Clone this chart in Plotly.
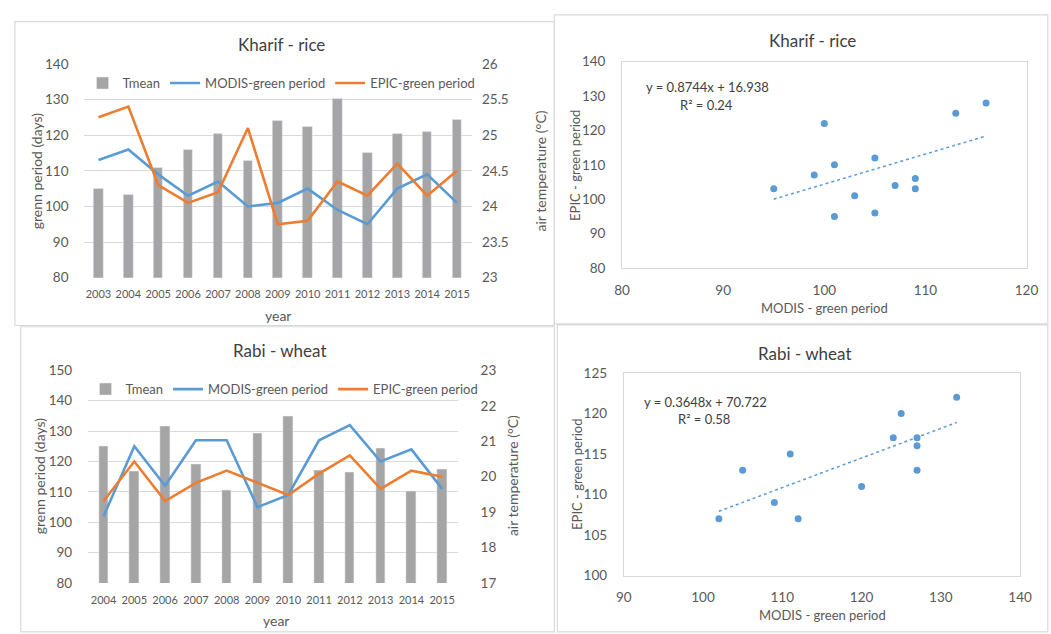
import plotly.graph_objects as go

W, H = 1051, 634
FONT = "Lato"
TXT = "#404040"
TICK = "#595959"
GRID = "#D9D9D9"
GRAY = "#A5A5A5"
BLUE = "#5B9BD5"
ORANGE = "#ED7D31"

# ---------------- data ----------------
kharif_years = ["2003", "2004", "2005", "2006", "2007", "2008", "2009",
                "2010", "2011", "2012", "2013", "2014", "2015"]
kharif_tmean = [24.24, 24.16, 24.54, 24.80, 25.02, 24.64, 25.20,
                25.11, 25.51, 24.75, 25.02, 25.05, 25.21]
kharif_modis = [113, 116, 109, 103, 107, 100, 101, 105, 99, 95, 105, 109, 101]
kharif_epic = [125, 128, 106, 101, 104, 122, 95, 96, 107, 103, 112, 103, 110]
kharif_slope, kharif_intercept, kharif_r2 = 0.8744, 16.938, 0.24

rabi_years = ["2004", "2005", "2006", "2007", "2008", "2009",
              "2010", "2011", "2012", "2013", "2014", "2015"]
rabi_tmean = [20.85, 20.15, 21.42, 20.35, 19.63, 21.21,
              21.69, 20.19, 20.11, 20.80, 19.58, 20.22]
rabi_modis = [102, 125, 112, 127, 127, 105, 109, 127, 132, 120, 124, 111]
rabi_epic = [107, 120, 107, 113, 117, 113, 109, 116, 122, 111, 117, 115]
rabi_slope, rabi_intercept, rabi_r2 = 0.3648, 70.722, 0.58


def px(x):
    return x / W


def py(y):
    return 1 - y / H


fig = go.Figure()

# ---------------- panel 1: Kharif line/bar ----------------
fig.add_trace(go.Bar(x=kharif_years, y=kharif_tmean, name="Tmean",
                     marker_color=GRAY, width=0.32, xaxis="x", yaxis="y",
                     legend="legend"))
fig.add_trace(go.Scatter(x=kharif_years, y=kharif_modis, name="MODIS-green period",
                         mode="lines", line=dict(color=BLUE, width=2.6),
                         xaxis="x", yaxis="y2", legend="legend"))
fig.add_trace(go.Scatter(x=kharif_years, y=kharif_epic, name="EPIC-green period",
                         mode="lines", line=dict(color=ORANGE, width=2.6),
                         xaxis="x", yaxis="y2", legend="legend"))

# ---------------- panel 2: Kharif scatter ----------------
fig.add_trace(go.Scatter(x=kharif_modis, y=kharif_epic, mode="markers",
                         marker=dict(color=BLUE, size=7), showlegend=False,
                         xaxis="x2", yaxis="y3"))
kx = [min(kharif_modis), max(kharif_modis)]
fig.add_trace(go.Scatter(x=kx, y=[kharif_slope * v + kharif_intercept for v in kx],
                         mode="lines", line=dict(color=BLUE, width=1.5, dash="dot"),
                         showlegend=False, xaxis="x2", yaxis="y3"))

# ---------------- panel 3: Rabi line/bar ----------------
fig.add_trace(go.Bar(x=rabi_years, y=rabi_tmean, name="Tmean",
                     marker_color=GRAY, width=0.31, xaxis="x3", yaxis="y4",
                     legend="legend2"))
fig.add_trace(go.Scatter(x=rabi_years, y=rabi_modis, name="MODIS-green period",
                         mode="lines", line=dict(color=BLUE, width=2.6),
                         xaxis="x3", yaxis="y5", legend="legend2"))
fig.add_trace(go.Scatter(x=rabi_years, y=rabi_epic, name="EPIC-green period",
                         mode="lines", line=dict(color=ORANGE, width=2.6),
                         xaxis="x3", yaxis="y5", legend="legend2"))

# ---------------- panel 4: Rabi scatter ----------------
fig.add_trace(go.Scatter(x=rabi_modis, y=rabi_epic, mode="markers",
                         marker=dict(color=BLUE, size=7), showlegend=False,
                         xaxis="x4", yaxis="y6"))
rx = [min(rabi_modis), max(rabi_modis)]
fig.add_trace(go.Scatter(x=rx, y=[rabi_slope * v + rabi_intercept for v in rx],
                         mode="lines", line=dict(color=BLUE, width=1.5, dash="dot"),
                         showlegend=False, xaxis="x4", yaxis="y6"))

tickf = dict(family=FONT, size=13.5, color=TICK)
yearf = dict(family=FONT, size=11, color=TICK)

cat_x = dict(type="category", showgrid=False, zeroline=False, ticks="",
             tickfont=yearf, showline=False, fixedrange=True)
days_y = dict(showgrid=True, gridcolor=GRID, gridwidth=1, zeroline=False,
              tickfont=tickf, ticks="", showline=False)
temp_y = dict(showgrid=False, zeroline=False, tickfont=tickf, ticks="", showline=False)
box_ax = dict(showgrid=False, zeroline=False, showline=True, mirror=True,
              linecolor=GRID, linewidth=1, ticks="", tickfont=tickf)

fig.update_layout(
    width=W, height=H,
    margin=dict(l=0, r=0, t=0, b=0),
    paper_bgcolor="white", plot_bgcolor="rgba(0,0,0,0)",
    font=dict(family=FONT, color=TXT),
    bargap=0,
    # panel 1
    xaxis=dict(cat_x, domain=[px(77), px(473)], anchor="y", range=[-0.5, 12.5],
               ticklabelstandoff=8),
    yaxis=dict(temp_y, domain=[py(276.7), py(57.3)], anchor="x", side="right",
               range=[23, 26], dtick=0.5, tick0=23, ticklabelstandoff=9),
    yaxis2=dict(days_y, overlaying="y", anchor="x", side="left",
                range=[80, 140], dtick=10, tick0=80, ticklabelstandoff=14),
    # panel 2
    xaxis2=dict(box_ax, domain=[px(626), px(1038.3)], anchor="y3",
                range=[80, 120], dtick=10, tick0=80, ticklabelstandoff=10),
    yaxis3=dict(box_ax, domain=[py(266.7), py(55)], anchor="x2",
                range=[80, 140], dtick=10, tick0=80, ticklabelstandoff=13),
    # panel 3
    xaxis3=dict(cat_x, domain=[px(81.7), px(458.3)], anchor="y4", range=[-0.5, 11.5],
                ticklabelstandoff=9),
    yaxis4=dict(temp_y, domain=[py(590), py(371.7)], anchor="x3", side="right",
                range=[17, 23], dtick=1, tick0=17, ticklabelstandoff=22),
    yaxis5=dict(days_y, overlaying="y4", anchor="x3", side="left",
                range=[80, 150], dtick=10, tick0=80, ticklabelstandoff=15),
    # panel 4
    xaxis4=dict(box_ax, domain=[px(627.7), px(1031.7)], anchor="y6",
                range=[90, 140], dtick=10, tick0=90, ticklabelstandoff=9),
    yaxis6=dict(box_ax, domain=[py(582.3), py(374.3)], anchor="x4",
                range=[100, 125], dtick=5, tick0=100, ticklabelstandoff=13),
    legend=dict(orientation="h", x=px(76), y=py(77), xanchor="left", yanchor="middle",
                font=dict(family=FONT, size=13, color=TICK), bgcolor="rgba(0,0,0,0)",
                traceorder="normal", itemwidth=30),
    legend2=dict(orientation="h", x=px(79), y=py(391), xanchor="left", yanchor="middle",
                 font=dict(family=FONT, size=13, color=TICK), bgcolor="rgba(0,0,0,0)",
                 traceorder="normal", itemwidth=30),
)

# panel frames
frames = [
    (7, 14, 557, 325.7),
    (557, 7, 1060, 324),
    (13, 327, 557, 640),
    (560, 325, 1060, 640),
]
for x0, y0, x1, y1 in frames:
    fig.add_shape(type="rect", xref="paper", yref="paper",
                  x0=px(x0), x1=px(x1), y0=py(y1), y1=py(y0),
                  line=dict(color=GRID, width=1.2), fillcolor="rgba(0,0,0,0)",
                  layer="below")


def ann(text, x, y, size, rot=0, xanchor="center", color=TXT):
    fig.add_annotation(text=text, x=px(x), y=py(y), xref="paper", yref="paper",
                       showarrow=False, textangle=rot, xanchor=xanchor,
                       yanchor="middle", font=dict(family=FONT, size=size, color=color))


# titles
ann("Kharif - rice", 279, 37, 17)
ann("Kharif - rice", 820, 33, 17)
ann("Rabi - wheat", 277, 351, 17)
ann("Rabi - wheat", 812, 354, 17)

# axis titles - line panels
ann("grenn period (days)", 29, 167, 14, rot=-90, color=TICK)
ann("air temperature (°C)", 543, 167, 14, rot=-90, color=TICK)
ann("year", 275, 315, 14, color=TICK)
ann("grenn period (days)", 33, 480, 14, rot=-90, color=TICK)
ann("air temperature (°C)", 515, 480, 14, rot=-90, color=TICK)
ann("year", 273, 628, 14, color=TICK)

# axis titles - scatter panels
ann("EPIC - green period", 578, 162, 13, rot=-90, color=TICK)
ann("MODIS - green period", 832, 308, 13, color=TICK)
ann("EPIC - green period", 580, 478, 13, rot=-90, color=TICK)
ann("MODIS - green period", 830, 623, 13, color=TICK)

# trendline equations
ann(f"y = {kharif_slope}x + {kharif_intercept}", 648, 81, 13, xanchor="left")
ann(f"R² = {kharif_r2}", 683, 99, 13, xanchor="left")
ann(f"y = {rabi_slope}x + {rabi_intercept}", 646, 404, 13, xanchor="left")
ann(f"R² = {rabi_r2}", 681, 422, 13, xanchor="left")

fig.write_html("out.html")
